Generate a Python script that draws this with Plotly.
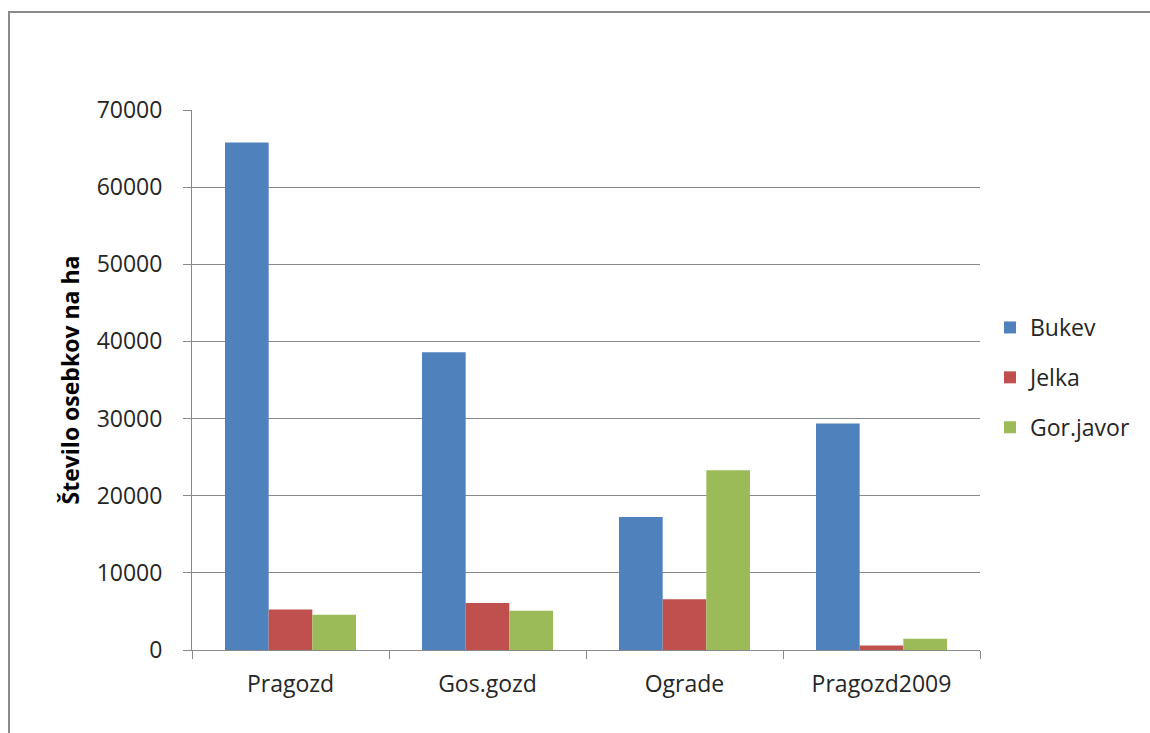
import plotly.graph_objects as go

# Tree density per stand type (individuals per hectare)
categories = ["Pragozd", "Gos.gozd", "Ograde", "Pragozd2009"]
bukev = [65800, 38600, 17250, 29350]
jelka = [5250, 6100, 6580, 580]
gor_javor = [4560, 5080, 23300, 1450]

series = [
    ("Bukev", bukev, "#4F81BD"),
    ("Jelka", jelka, "#C0504D"),
    ("Gor.javor", gor_javor, "#9BBB59"),
]

FONT = "Open Sans"
TEXT = "#262626"
GRID = "#898989"

fig = go.Figure()
for name, vals, color in series:
    fig.add_trace(go.Bar(
        x=categories, y=vals, name=name, legendgroup=name,
        marker=dict(color=color, line=dict(width=0)),
    ))

# plot area geometry in pixels
L, R, T, B = 192, 170, 110, 83
W, H = 1150, 733
pw, ph = W - L - R, H - T - B

fig.update_layout(
    width=W, height=H,
    margin=dict(l=L, r=R, t=T, b=B, autoexpand=False),
    paper_bgcolor="white", plot_bgcolor="white",
    barmode="group", bargap=0.335, bargroupgap=0,
    font=dict(family=FONT, size=23, color=TEXT),
    showlegend=True,
    legend=dict(
        x=(990 - L) / pw, y=1 - (306 - T) / ph,
        xanchor="left", yanchor="top",
        font=dict(family=FONT, size=23, color=TEXT),
        traceorder="grouped", tracegroupgap=17,
        bgcolor="rgba(0,0,0,0)",
    ),
    xaxis=dict(
        type="category",
        showline=True, linecolor=GRID, linewidth=1,
        ticks="outside", ticklen=8, tickcolor=GRID, tickson="boundaries",
        ticklabelstandoff=13,
        showgrid=False,
        tickfont=dict(family=FONT, size=23, color=TEXT),
    ),
    yaxis=dict(
        range=[0, 70000], dtick=10000, tick0=0,
        showline=True, linecolor=GRID, linewidth=1,
        ticks="outside", ticklen=8, tickcolor=GRID,
        ticklabelstandoff=16,
        showgrid=True, gridcolor=GRID, gridwidth=1,
        zeroline=False,
        tickformat="d",
        tickfont=dict(family=FONT, size=23, color=TEXT),
        title=dict(text="<b>Število osebkov na ha</b>",
                   font=dict(family=FONT, size=23, color="#000000"),
                   standoff=10),
    ),
    shapes=[dict(
        type="rect", xref="paper", yref="paper",
        x0=(9 - L) / pw, x1=(1200 - L) / pw,
        y0=1 - (800 - T) / ph, y1=1 + (T - 12) / ph,
        line=dict(color="#8c8c8c", width=2), fillcolor="rgba(0,0,0,0)",
        layer="below",
    )],
)

fig.write_html("out.html")
